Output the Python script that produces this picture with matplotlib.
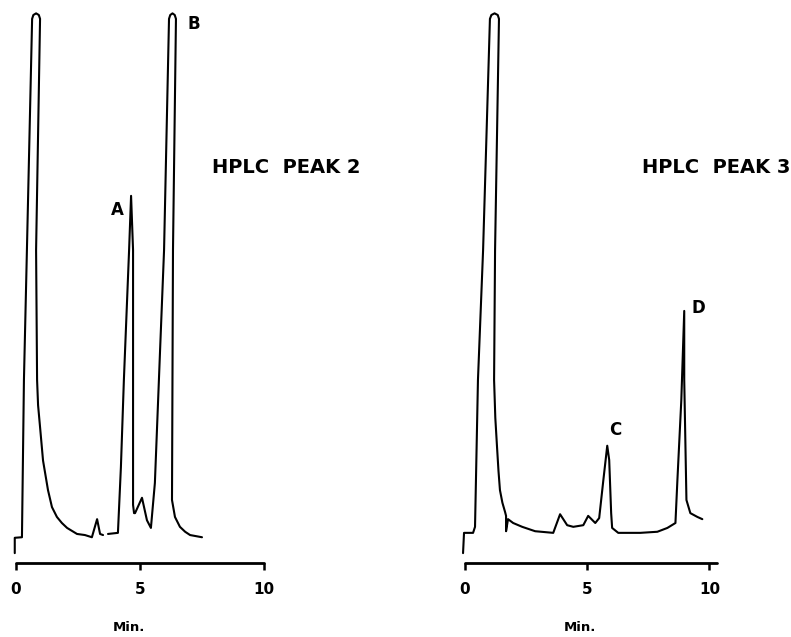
import matplotlib.pyplot as plt
import numpy as np

# HPLC peak 2 trace: retention time (min) vs detector response (% of full scale)
time_2 = [-0.05, -0.05, 0.24, 0.32, 0.44, 0.65, 0.70, 0.81, 0.92, 0.97,
          0.81, 0.85, 0.89, 0.97, 1.09, 1.29, 1.45, 1.65, 1.85, 2.06,
          2.46, 2.78, 3.06, 3.27, 3.39, 3.51, np.nan, 3.71, 4.11, 4.23,
          4.35, 4.56, 4.64, 4.72, 4.72, 4.72, 4.76, 4.80, 5.08, 5.28,
          5.44, 5.60, 5.81, 5.97, 6.17, 6.22, 6.31, 6.40, 6.45, 6.33,
          6.29, 6.41, 6.61, 6.82, 7.02, 7.50]
resp_2 = [1.8, 4.6, 4.7, 33.4, 57.1, 99.3, 100, 100.3, 100, 99.3,
          57.1, 33.4, 28.8, 24.8, 18.7, 13.3, 10.2, 8.4, 7.3, 6.4,
          5.3, 5.1, 4.7, 8.0, 5.3, 5.1, np.nan, 5.3, 5.5, 17.5,
          33.4, 57.1, 67.0, 57.1, 33.4, 10.6, 9.1, 9.1, 11.9, 7.8,
          6.4, 14.6, 38.9, 57.1, 99.3, 100, 100.3, 100, 99.3, 57.1,
          11.5, 8.4, 6.6, 5.7, 5.1, 4.7]

# HPLC peak 3 trace
time_3 = [-0.08, -0.04, 0.33, 0.41, 0.53, 0.74, 1.02, 1.08, 1.21, 1.34,
          1.39, 1.23, 1.19, 1.24, 1.31, 1.37, 1.43, 1.53, 1.64, 1.68,
          1.68, 1.76, 1.97, 2.34, 2.87, 3.61, 3.89, 4.18, 4.43, 4.84,
          5.04, 5.33, 5.49, 5.66, 5.82, 5.90, 5.98, 6.02, 6.27, 7.17,
          7.87, 8.28, 8.61, 8.69, 8.85, 8.97, 8.97, 9.06, 9.22, 9.51, 9.71]
resp_3 = [1.8, 5.5, 5.5, 6.6, 33.4, 57.1, 99.3, 100, 100.3, 100,
          99.3, 57.1, 33.4, 26.5, 21.2, 16.8, 13.3, 11.0, 9.3, 8.6,
          5.8, 8.0, 7.3, 6.6, 5.8, 5.5, 8.9, 6.9, 6.6, 6.9,
          8.6, 7.3, 8.2, 15.1, 21.4, 18.8, 9.1, 6.4, 5.5, 5.5,
          5.7, 6.4, 7.3, 15.1, 29.7, 46.0, 33.4, 11.5, 9.1, 8.4, 8.0]

ticks = [0, 5, 10]
tick_labels = ["0", "5", "10"]

# (label, retention time, offset in points)
labels_2 = [("A", 4.65, (-10, -10)), ("B", 6.31, (15.5, -7.6))]
labels_3 = [("C", 5.82, (6, 11)), ("D", 8.97, (10, 2))]

BOLD = dict(fontfamily="DejaVu Sans", fontweight="bold", color="black")


def peak_apex(t, r, rt):
    t = np.asarray(t, float)
    r = np.asarray(r, float)
    idx = np.where(np.abs(t - rt) < 0.3)[0]
    i = idx[np.nanargmax(r[idx])]
    return t[i], r[i]


def draw_panel(ax, t, r, xmax, labels, title, title_x):
    ax.plot(t, r, color="black", lw=1.5, solid_joinstyle="round",
            solid_capstyle="round", clip_on=False)
    ax.set_xlim(0, xmax)
    ax.set_ylim(0, 100)
    for s in ["left", "right", "top"]:
        ax.spines[s].set_visible(False)
    ax.spines["bottom"].set_linewidth(2.0)
    ax.spines["bottom"].set_capstyle("round")
    ax.set_yticks([])
    ax.set_xticks(ticks)
    ax.set_xticklabels(tick_labels, fontsize=11, **BOLD)
    ax.tick_params(axis="x", direction="out", length=5, width=1.8, pad=9)
    ax.set_xlabel("Min.", fontsize=9.5, **BOLD)
    ax.xaxis.set_label_coords(0.457, -0.105)
    for name, rt, off in labels:
        x, y = peak_apex(t, r, rt)
        ax.annotate(name, (x, y), xytext=off, textcoords="offset points",
                    ha="center", va="center", fontsize=12, **BOLD,
                    annotation_clip=False)
    ax.text(title_x, 0.721, title, transform=ax.transAxes, ha="center",
            va="center", fontsize=14, **BOLD)


fig = plt.figure(figsize=(7.91, 6.37), dpi=100)
ax1 = fig.add_axes([16 / 791, 74 / 637, 248 / 791, 548 / 637])
ax2 = fig.add_axes([465 / 791, 74 / 637, 251.5 / 791, 548 / 637])
ax1.patch.set_alpha(0)
ax2.patch.set_alpha(0)

draw_panel(ax1, time_2, resp_2, 10, labels_2, "HPLC  PEAK 2", 1.089)
draw_panel(ax2, time_3, resp_3, 10.29, labels_3, "HPLC  PEAK 3", 0.998)

fig.savefig("out.png", dpi=100)
